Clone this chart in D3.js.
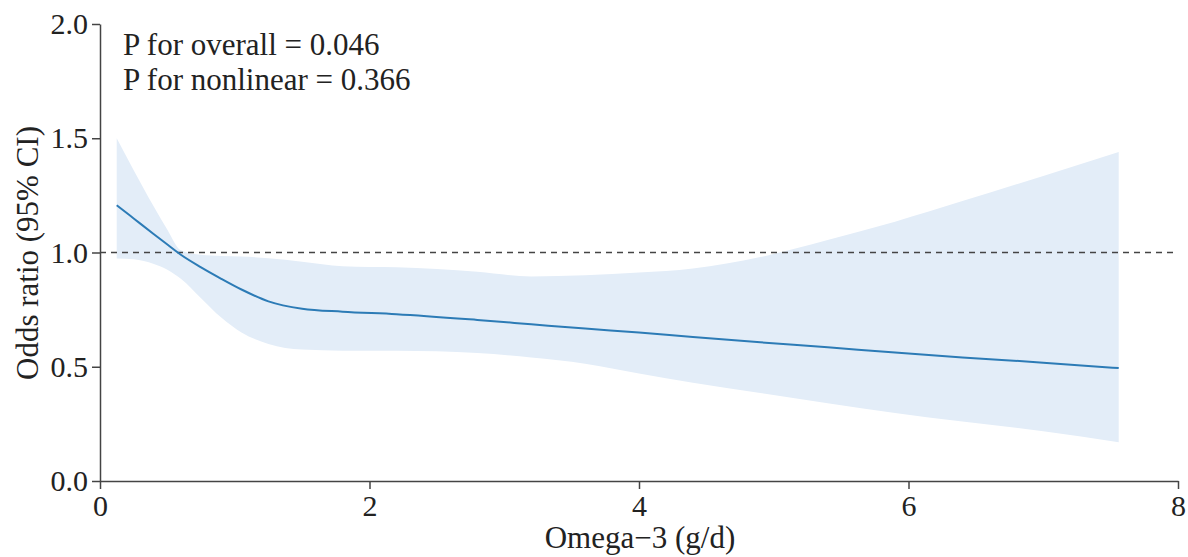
<!DOCTYPE html>
<html>
<head>
<meta charset="utf-8">
<script src="https://cdn.jsdelivr.net/npm/d3@7"></script>
<style>
  body { margin: 0; background: #fff; }
  text { font-family: "Liberation Serif", "Times New Roman", serif; fill: #222; }
</style>
</head>
<body>
<div id="chart"></div>
<script>
var svgWidth = 1188;
var svgHeight = 557;

// data
var omega = [0.124, 0.25, 0.4, 0.5, 0.6, 0.75, 0.9, 1.05, 1.25, 1.5, 1.8, 2.2, 2.8, 3.2, 3.6, 4.0, 4.4, 4.9, 5.4, 5.9, 6.4, 7.0, 7.56];
var oddsRatio = [1.207, 1.149, 1.08, 1.035, 0.99, 0.935, 0.885, 0.838, 0.786, 0.754, 0.741, 0.73, 0.705, 0.686, 0.667, 0.65, 0.63, 0.607, 0.585, 0.562, 0.541, 0.518, 0.494];
var upperCI = [1.5, 1.36, 1.2, 1.1, 1.01, 0.99, 0.985, 0.982, 0.975, 0.96, 0.94, 0.935, 0.916, 0.895, 0.9, 0.912, 0.93, 0.98, 1.055, 1.135, 1.225, 1.335, 1.44];
var lowerCI = [0.974, 0.97, 0.95, 0.925, 0.885, 0.8, 0.715, 0.65, 0.6, 0.575, 0.57, 0.57, 0.56, 0.54, 0.513, 0.47, 0.43, 0.385, 0.34, 0.298, 0.26, 0.218, 0.17];
var xTicks = [0, 2, 4, 6, 8];
var yTicks = [0, 0.5, 1, 1.5, 2];
var pTexts = ["P for overall = 0.046", "P for nonlinear = 0.366"];

var rows = omega.map(function(x, i) {
  return { x: x, or: oddsRatio[i], lo: lowerCI[i], hi: upperCI[i] };
});

var svg = d3.select("#chart")
  .append("svg")
  .attr("width", svgWidth)
  .attr("height", svgHeight);

var xScale = d3.scaleLinear().domain([0, 8]).range([100, 1178]);
var yScale = d3.scaleLinear().domain([0, 2]).range([481, 24]);

// confidence band
var band = d3.area()
  .x(d => xScale(d.x))
  .y0(d => yScale(d.lo))
  .y1(d => yScale(d.hi))
  .curve(d3.curveMonotoneX);

svg.append("path")
  .datum(rows)
  .attr("d", band)
  .attr("fill", "#e3edf8");

// reference line at OR = 1
svg.append("line")
  .attr("x1", xScale(0))
  .attr("x2", xScale(8))
  .attr("y1", yScale(1))
  .attr("y2", yScale(1))
  .attr("stroke", "#444")
  .attr("stroke-width", 1.5)
  .attr("stroke-dasharray", "6,5");

// fitted curve
var line = d3.line()
  .x(d => xScale(d.x))
  .y(d => yScale(d.or))
  .curve(d3.curveMonotoneX);

svg.append("path")
  .datum(rows)
  .attr("d", line)
  .attr("fill", "none")
  .attr("stroke", "#2c7bb6")
  .attr("stroke-width", 2);

// axes
var xAxis = d3.axisBottom(xScale).tickValues(xTicks).tickSize(8).tickSizeOuter(0).tickFormat(d3.format("d"));
var yAxis = d3.axisLeft(yScale).tickValues(yTicks).tickSize(8).tickSizeOuter(0).tickFormat(d3.format(".1f"));

var gx = svg.append("g")
  .attr("transform", `translate(0, ${yScale(0)})`)
  .call(xAxis);
var gy = svg.append("g")
  .attr("transform", `translate(${xScale(0)}, 0)`)
  .call(yAxis);

[gx, gy].forEach(function(g) {
  g.selectAll("path, line").attr("stroke", "#444").attr("stroke-width", 1.5);
  g.selectAll("text")
    .style("font-family", "'Liberation Serif', 'Times New Roman', serif")
    .style("font-size", "30px")
    .attr("fill", "#222");
});
gx.selectAll("text").attr("dy", "0.85em").attr("y", 9);
gy.selectAll("text").attr("x", -12);

// axis titles
svg.append("text")
  .attr("x", 640)
  .attr("y", 548)
  .attr("text-anchor", "middle")
  .style("font-size", "31px")
  .text("Omega\u22123 (g/d)");

svg.append("text")
  .attr("transform", "rotate(-90)")
  .attr("x", -253)
  .attr("y", 38)
  .attr("text-anchor", "middle")
  .style("font-size", "31px")
  .text("Odds ratio (95% CI)");

// p values
svg.append("g")
  .selectAll("text")
  .data(pTexts)
  .enter()
  .append("text")
  .attr("x", 123)
  .attr("y", (d, i) => 55 + i * 35)
  .style("font-size", "31px")
  .text(d => d);
</script>
</body>
</html>
